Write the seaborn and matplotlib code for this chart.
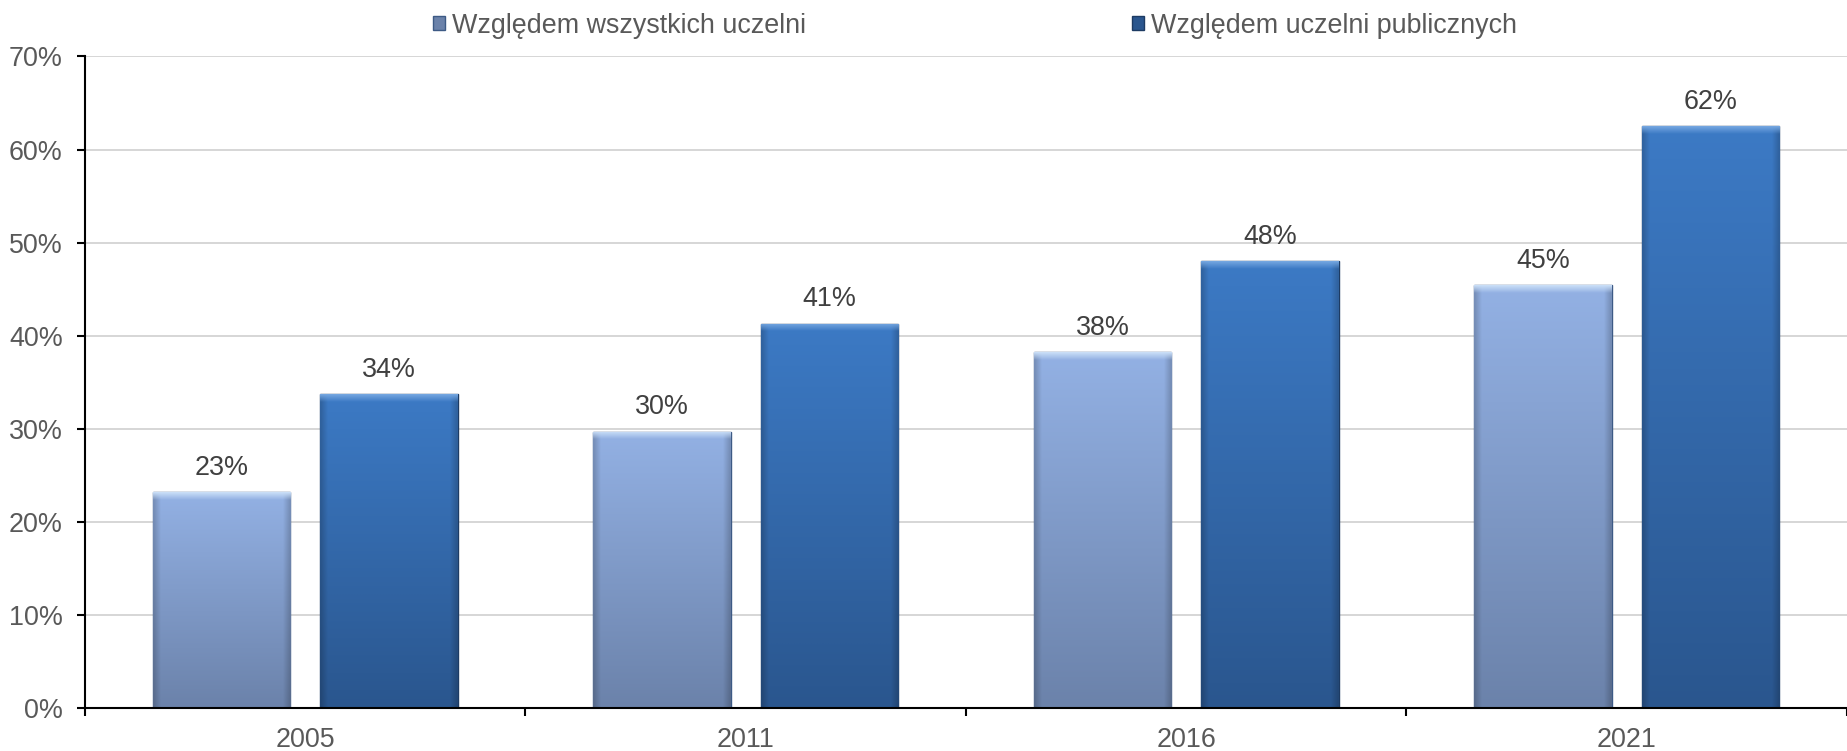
import numpy as np
import pandas as pd
import matplotlib
matplotlib.use("Agg")
import matplotlib.pyplot as plt
import seaborn as sns
from matplotlib.colors import to_rgb

years = ["2005", "2011", "2016", "2021"]
series_names = ["Względem wszystkich uczelni", "Względem uczelni publicznych"]
vals_all = [23.2, 29.7, 38.2, 45.4]
vals_public = [33.7, 41.3, 48.0, 62.5]
yticks = [0, 10, 20, 30, 40, 50, 60, 70]

sns.set_theme(style="white")
plt.rcParams["font.family"] = ["Liberation Sans", "DejaVu Sans"]

df = pd.DataFrame({
    "year": years * 2,
    "series": [series_names[0]] * 4 + [series_names[1]] * 4,
    "value": vals_all + vals_public,
})

FS = 19.4
base_colors = ["#86a2d2", "#3468ad"]
grad = {
    0: ("#93b1e4", "#6b82aa", "#c9def7", "#3d5a85"),
    1: ("#3c7ac5", "#2a568e", "#74a6e0", "#1d3b63"),
}

fig = plt.figure(figsize=(18.47, 7.51), dpi=100)
ax = fig.add_axes([0.046, 0.0573, 0.954, 0.8675])

sns.barplot(data=df, x="year", y="value", hue="series", order=years,
            hue_order=series_names, palette=base_colors, width=0.76, gap=0.18,
            ax=ax, legend=True, zorder=3)

ax.set_xlim(-0.5, 3.5)
ax.set_ylim(0, 70)
ax.set_yticks(yticks)
ax.set_yticklabels([f"{v}%" for v in yticks])
ax.set_xlabel("")
ax.set_ylabel("")

for v in yticks[1:]:
    ax.axhline(v, color="#d0d0d0", lw=1.2, zorder=1)

for s in ["top", "right"]:
    ax.spines[s].set_visible(False)
for s in ["left", "bottom"]:
    ax.spines[s].set_color("black")
    ax.spines[s].set_linewidth(1.5)
    ax.spines[s].set_zorder(5)

ax.tick_params(axis="y", which="major", left=True, length=6, width=1.5,
               color="black", labelsize=FS, labelcolor="#595959", pad=10)
ax.tick_params(axis="x", which="major", bottom=False, labelsize=FS,
               labelcolor="#595959", pad=8)
ax.set_xticks([-0.5, 0.5, 1.5, 2.5, 3.5], minor=True)
ax.tick_params(axis="x", which="minor", bottom=True, length=6, width=1.5,
               color="black")

for ci, cont in enumerate(ax.containers):
    top_c, bot_c, hi_c, edge_c = grad[ci]
    for p in cont.patches:
        x0, y0 = p.get_x(), p.get_y()
        w, h = p.get_width(), p.get_height()
        n = max(int(h * 10), 2)
        t = np.linspace(0, 1, n)[:, None]
        tc, bc = np.array(to_rgb(top_c)), np.array(to_rgb(bot_c))
        m = 60
        img = tc[None, None, :] * (1 - t[:, :, None]) + bc[None, None, :] * t[:, :, None]
        img = np.repeat(img, m, axis=1)
        xs = np.arange(m)
        side = np.clip(1 - np.minimum(xs, m - 1 - xs) / 3.0, 0, 1) * 0.18
        img = img * (1 - side[None, :, None])
        hc = np.array(to_rgb(hi_c))
        nh = 8
        for k in range(min(nh, n)):
            a = 1 - k / nh
            img[k, :, :] = hc * a + img[k, :, :] * (1 - a)
        im = ax.imshow(img, extent=[x0, x0 + w, y0, y0 + h], origin="upper",
                       aspect="auto", zorder=3.5, interpolation="bilinear")
        im.set_clip_path(p)
        p.set_edgecolor(edge_c)
        p.set_linewidth(1.0)
        p.set_zorder(3)
        p.set_facecolor(bot_c)
    ax.bar_label(cont, labels=[f"{round(v)}%" for v in cont.datavalues],
                 padding=8, fontsize=FS, color="#404040", zorder=6)

ax.set_xlim(-0.5, 3.5)
ax.set_ylim(0, 70)

handles, labels = ax.get_legend_handles_labels()
ax.get_legend().remove()
leg = fig.legend(handles, labels, loc="center", bbox_to_anchor=(0.528, 0.966),
                 ncol=2, frameon=False, fontsize=FS, handlelength=0.45,
                 handleheight=0.45, handletextpad=0.25, columnspacing=12.1,
                 labelcolor="#595959")
for hnd, (top_c, bot_c, hi_c, edge_c) in zip(leg.legend_handles, grad.values()):
    hnd.set_facecolor(bot_c)
    hnd.set_edgecolor(edge_c)

fig.savefig("out.png", dpi=100)
